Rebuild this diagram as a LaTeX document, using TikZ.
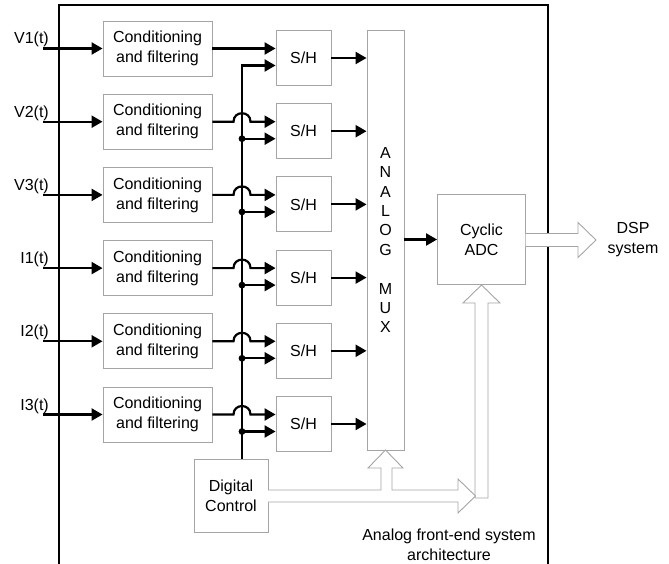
\documentclass[tikz,border=0pt]{standalone}
\usepackage{fontspec}
\setmainfont{Liberation Sans}
\usetikzlibrary{arrows.meta}
\definecolor{boxgray}{RGB}{165,165,165}
\begin{document}
\begin{tikzpicture}[x=1pt,y=-1pt,
  txt/.style={font=\fontsize{16}{20}\selectfont},
  blk/.style={draw=boxgray, line width=0.9pt, fill=white, inner sep=0pt, txt, align=center},
  sig/.style={line width=2.2pt, -{Triangle[length=11pt,width=12pt]}},
  wire/.style={line width=2.2pt},
  hollow/.style={draw=boxgray, line width=0.9pt, fill=white, line join=miter},
  lbl/.style={txt, inner sep=0pt}]
\useasboundingbox (0,0) rectangle (669,564);
% frame
\draw[line width=2pt] (59,565) -- (59,5) -- (548,5) -- (548,565);

% MUX, ADC, digital control
\node[blk, minimum width=37pt, minimum height=420pt, font=\fontsize{16}{19.4}\selectfont] (mux) at (385.5,240)
  {A\\N\\A\\L\\O\\G\\[19.4pt]M\\U\\X};
\node[blk, minimum width=88pt, minimum height=90pt] (adc) at (481.5,239.5) {Cyclic\\ADC};
\node[blk, minimum width=74pt, minimum height=73pt] (dc) at (231,495.5) {Digital\\Control};
\node[lbl, align=center] (dsp) at (633,240) {DSP\\system};
\node[lbl, align=center] (cap) at (449,545) {Analog front-end system\\architecture};

% rows
\foreach \i/\t in {0/V1(t),1/V2(t),2/V3(t),3/I1(t),4/I2(t),5/I3(t)}{
  \pgfmathsetmacro{\yy}{48.5+73.2*\i}
  \node[blk, minimum width=109pt, minimum height=55pt] (c\i) at (157.5,\yy) {Conditioning\\and filtering};
  \node[blk, minimum width=55pt, minimum height=55pt] (s\i) at (303.5,\yy+9.5) {S/H};
  \coordinate (in\i) at (43,\yy);
  \node[lbl, anchor=base east] (l\i) at (49,\yy-4.5) {\t};
  \draw[sig] (in\i) -- (c\i.west);
  \draw[sig] (s\i.east) -- (s\i.east -| mux.west);
  \coordinate (d\i) at (242,\yy+17);
}
% first row straight
\draw[sig] (c0.east) -- (c0.east -| s0.west);
% rows with hops
\foreach \i in {1,...,5}{
  \pgfmathsetmacro{\yy}{48.5+73.2*\i}
  \draw[sig] (c\i.east) -- (233.5,\yy) .. controls (233.5,\yy-11.3) and (250.5,\yy-11.3) .. (250.5,\yy) -- (s\i.west |- c\i.east);
  \draw[sig] (d\i) -- (d\i -| s\i.west);
  \fill (d\i) circle (3.4pt);
}
% control bus
\coordinate (bustop) at (242,65.5);
\coordinate (busbot) at (242,459);
\draw[wire] (busbot) -- (bustop);
\draw[sig] ([yshift=1.1pt]bustop) -- (bustop) -- (bustop -| s0.west);

% MUX -> ADC
\draw[sig] (mux.east |- adc.west) -- (adc.west);

% hollow arrows
\draw[hollow] (525.5,233.5) -- (578,233.5) -- (578,222.5) -- (596,240) -- (578,257.5) -- (578,246.5) -- (525.5,246.5);
\draw[hollow] (475,498) -- (475,303) -- (463,303) -- (481.5,285) -- (500,303) -- (488,303) -- (488,498) -- cycle;
\draw[hollow] (268,490) -- (381,490) -- (381,468) -- (368,468) -- (385.5,450) -- (403,468) -- (392,468) -- (392,490)
  -- (458,490) -- (458,479) -- (475.5,496) -- (458,513) -- (458,502) -- (268,502);
\end{tikzpicture}
\end{document}
